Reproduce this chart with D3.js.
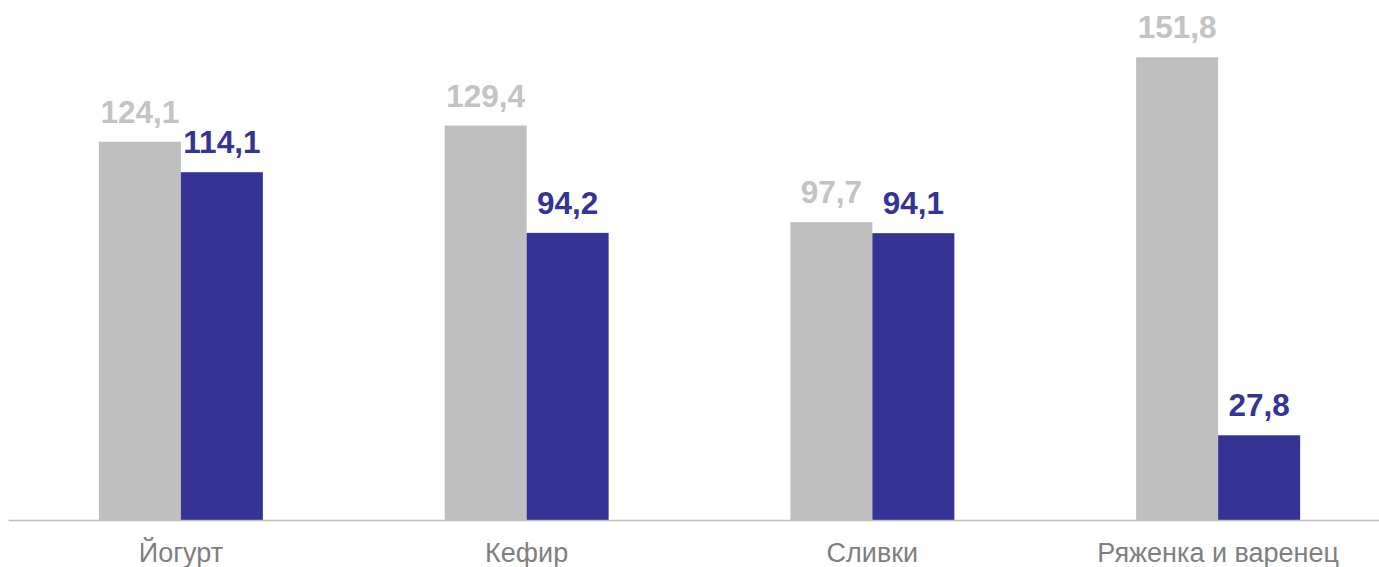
<!DOCTYPE html>
<html>
<head>
<meta charset="utf-8">
<script src="https://cdn.jsdelivr.net/npm/d3@7"></script>
<style>
  body { margin: 0; background: #fff; }
  text { font-family: "Liberation Sans", Arial, sans-serif; }
</style>
</head>
<body>
<script>
// chart size
var w = 1379;
var h = 567;

// data
var categories = ["Йогурт", "Кефир", "Сливки", "Ряженка и варенец"];
var prevValues = [124.1, 129.4, 97.7, 151.8];
var currValues = [114.1, 94.2, 94.1, 27.8];
var seriesKeys = ["prev", "curr"];

var dataset = categories.map(function(c, i) {
  return { cat: c, prev: prevValues[i], curr: currValues[i] };
});

var colors = { prev: "#bfbfbf", curr: "#353396" };
var labelColors = { prev: "#c3c3c3", curr: "#353396" };

var x0 = d3.scaleBand()
  .domain(categories)
  .range([8, 1391])
  .paddingInner(0)
  .paddingOuter(0);

var x1 = d3.scaleBand()
  .domain(seriesKeys)
  .range([0, 164])
  .padding(0);

var yScale = d3.scaleLinear()
  .domain([0, 170.6])
  .range([520, 0]);

var svg = d3.select("body")
  .append("svg")
  .attr("width", w)
  .attr("height", h);

var groups = svg.selectAll("g.grp")
  .data(dataset)
  .enter()
  .append("g")
  .attr("class", "grp")
  .attr("transform", function(d) {
    return "translate(" + (x0(d.cat) + x0.bandwidth() / 2 - 82) + ",0)";
  });

groups.selectAll("rect")
  .data(function(d) { return seriesKeys.map(function(k) { return { key: k, value: d[k] }; }); })
  .enter()
  .append("rect")
  .attr("x", function(d) { return x1(d.key); })
  .attr("y", function(d) { return yScale(d.value); })
  .attr("width", x1.bandwidth())
  .attr("height", function(d) { return yScale(0) - yScale(d.value); })
  .style("fill", function(d) { return colors[d.key]; });

groups.selectAll("text.val")
  .data(function(d) { return seriesKeys.map(function(k) { return { key: k, value: d[k] }; }); })
  .enter()
  .append("text")
  .attr("class", "val")
  .attr("x", function(d) { return x1(d.key) + x1.bandwidth() / 2; })
  .attr("y", function(d) { return yScale(d.value) - 19; })
  .attr("text-anchor", "middle")
  .style("font-size", "31.5px")
  .style("font-weight", "bold")
  .style("fill", function(d) { return labelColors[d.key]; })
  .text(function(d) { return d3.format(".1f")(d.value).replace(".", ","); });

// x axis
var xAxis = d3.axisBottom(x0).tickSize(0).tickPadding(0);
var axisG = svg.append("g")
  .attr("transform", "translate(0,520)")
  .call(xAxis);
axisG.select(".domain").attr("stroke", "#bfbfbf").attr("stroke-width", 1.5);
axisG.selectAll(".tick text")
  .attr("dy", 0)
  .attr("y", 42)
  .style("font-size", "27px")
  .style("font-family", "'Liberation Sans', Arial, sans-serif")
  .style("fill", "#7f7f7f");
</script>
</body>
</html>
